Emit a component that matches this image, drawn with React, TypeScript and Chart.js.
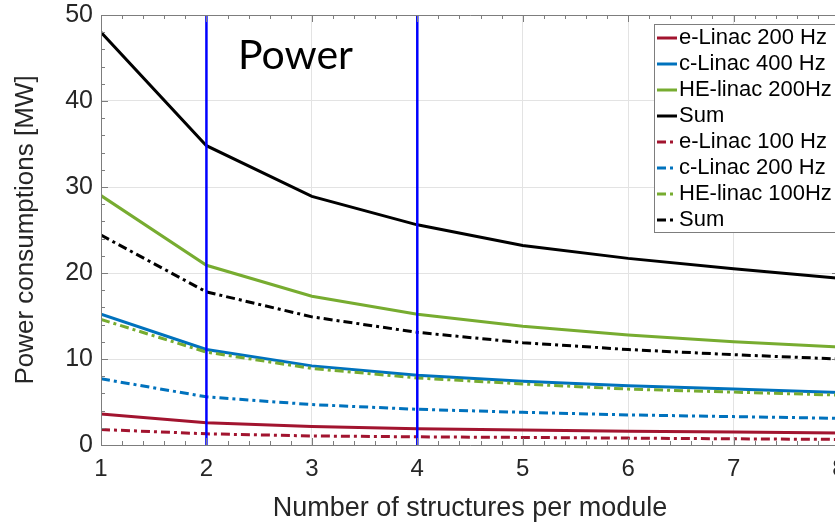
import React, { useEffect, useRef } from 'react';
import { Chart, registerables } from 'chart.js';

Chart.register(...registerables);

// ---- data ----
const structures = [1, 2, 3, 4, 5, 6, 7, 8];
const eLinac200 = [3.6, 2.6, 2.15, 1.9, 1.75, 1.6, 1.5, 1.4];
const cLinac400 = [15.2, 11.1, 9.2, 8.1, 7.4, 6.9, 6.5, 6.1];
const heLinac200 = [29.0, 20.9, 17.3, 15.2, 13.8, 12.8, 12.0, 11.4];
const sum1 = [48.0, 34.8, 28.9, 25.6, 23.2, 21.7, 20.5, 19.4];
const eLinac100 = [1.8, 1.3, 1.05, 0.95, 0.88, 0.8, 0.72, 0.65];
const cLinac200 = [7.7, 5.6, 4.7, 4.15, 3.8, 3.5, 3.3, 3.1];
const heLinac100 = [14.6, 10.8, 8.9, 7.8, 7.1, 6.5, 6.15, 5.8];
const sum2 = [24.4, 17.8, 14.9, 13.1, 11.9, 11.1, 10.5, 10.0];
const markerLines = [2, 4];
const yRange = [0, 50];
const xRange = [1, 8];
const seriesLabels = [
  'e-Linac 200 Hz',
  'c-Linac 400 Hz',
  'HE-linac 200Hz',
  'Sum',
  'e-Linac 100 Hz',
  'c-Linac 200 Hz',
  'HE-linac 100Hz',
  'Sum',
];
const xTitle = 'Number of structures per module';
const yTitle = 'Power consumptions [MW]';
const annotationText = 'Power';

const RED = '#A2142F';
const BLUE = '#0072BD';
const GREEN = '#77AC30';
const BLACK = '#000000';
const DASHDOT = [9, 4, 3, 4];
const FONT = "'Liberation Sans', Arial, Helvetica, sans-serif";

const seriesValues = [eLinac200, cLinac400, heLinac200, sum1, eLinac100, cLinac200, heLinac100, sum2];
const seriesColors = [RED, BLUE, GREEN, BLACK, RED, BLUE, GREEN, BLACK];

const axesBoxPlugin = {
  id: 'axesBox',
  afterDatasetsDraw(chart: any) {
    const { ctx, chartArea, scales } = chart;
    const { left, right, top, bottom } = chartArea;
    const x = scales.x;
    const y = scales.y;
    ctx.save();
    ctx.strokeStyle = '#7d7d7d';
    ctx.lineWidth = 1;
    ctx.beginPath();
    ctx.rect(Math.round(left) + 0.5, Math.round(top) + 0.5, Math.round(right - left), Math.round(bottom - top));
    ctx.stroke();
    ctx.beginPath();
    for (let k = 0; k <= (xRange[1] - xRange[0]) * 5; k++) {
      const v = xRange[0] + k * 0.2;
      const px = Math.round(x.getPixelForValue(v)) + 0.5;
      const len = k % 5 === 0 ? 7 : 4;
      ctx.moveTo(px, bottom);
      ctx.lineTo(px, bottom - len);
      ctx.moveTo(px, top);
      ctx.lineTo(px, top + len);
    }
    for (let k = 0; k <= (yRange[1] - yRange[0]) / 2; k++) {
      const v = yRange[0] + k * 2;
      const py = Math.round(y.getPixelForValue(v)) + 0.5;
      const len = k % 5 === 0 ? 7 : 4;
      ctx.moveTo(left, py);
      ctx.lineTo(left + len, py);
      ctx.moveTo(right, py);
      ctx.lineTo(right - len, py);
    }
    ctx.stroke();
    ctx.restore();
  },
};

const overlayPlugin = {
  id: 'overlay',
  afterDraw(chart: any) {
    const { ctx, chartArea, scales } = chart;
    ctx.save();
    ctx.fillStyle = '#000';
    ctx.font = "41px Lato, 'Open Sans', sans-serif";
    ctx.textAlign = 'left';
    ctx.textBaseline = 'alphabetic';
    ctx.fillText(annotationText, scales.x.getPixelForValue(2.3), scales.y.getPixelForValue(43.7));
    ctx.restore();

    const boxLeft = chartArea.right - 185;
    const boxTop = chartArea.top + 9;
    const rowH = 26;
    const items = chart.data.datasets.filter((d: any) => d.inLegend);
    const boxH = items.length * rowH;
    ctx.save();
    ctx.fillStyle = '#ffffff';
    ctx.fillRect(boxLeft, boxTop, 230, boxH);
    ctx.strokeStyle = '#7d7d7d';
    ctx.lineWidth = 1;
    ctx.strokeRect(Math.round(boxLeft) + 0.5, Math.round(boxTop) + 0.5, 230, boxH);
    items.forEach((d: any, i: number) => {
      const cy = boxTop + rowH / 2 + i * rowH + 1;
      ctx.beginPath();
      ctx.strokeStyle = d.borderColor;
      ctx.lineWidth = 3;
      ctx.setLineDash(d.borderDash || []);
      ctx.moveTo(boxLeft + 3, cy);
      ctx.lineTo(boxLeft + 23, cy);
      ctx.stroke();
      ctx.setLineDash([]);
      ctx.fillStyle = '#000';
      ctx.font = `22px ${FONT}`;
      ctx.textAlign = 'left';
      ctx.textBaseline = 'middle';
      ctx.fillText(d.label, boxLeft + 25, cy);
    });
    ctx.restore();
  },
};

export default function App() {
  const ref = useRef<HTMLCanvasElement | null>(null);

  useEffect(() => {
    if (!ref.current) return;
    const datasets: any[] = seriesValues.map((vals, i) => ({
      label: seriesLabels[i],
      data: structures.map((s, j) => ({ x: s, y: vals[j] })),
      borderColor: seriesColors[i],
      backgroundColor: seriesColors[i],
      borderWidth: 3,
      borderDash: i >= 4 ? DASHDOT : [],
      pointRadius: 0,
      tension: 0,
      fill: false,
      inLegend: true,
      order: 20 - i,
    }));
    markerLines.forEach((m) => {
      datasets.push({
        label: `x=${m}`,
        data: [
          { x: m, y: yRange[0] },
          { x: m, y: yRange[1] },
        ],
        borderColor: '#0000FF',
        backgroundColor: '#0000FF',
        borderWidth: 2.5,
        pointRadius: 0,
        fill: false,
        inLegend: false,
        order: 0,
      });
    });

    const chart = new Chart(ref.current, {
      type: 'line',
      data: { datasets },
      plugins: [axesBoxPlugin, overlayPlugin],
      options: {
        animation: false,
        responsive: false,
        devicePixelRatio: 1,
        layout: { padding: { left: 0, top: 15, right: 16, bottom: 0 } },
        plugins: {
          legend: { display: false },
          tooltip: { enabled: false },
        },
        scales: {
          x: {
            type: 'linear',
            min: xRange[0],
            max: xRange[1],
            afterFit: (s: any) => {
              s.height = 80;
              s.paddingLeft = 0;
              s.paddingRight = 0;
            },
            ticks: {
              stepSize: 1,
              color: '#262626',
              font: { family: FONT, size: 24 },
              padding: 10,
              maxRotation: 0,
            },
            grid: { color: '#e3e3e3', lineWidth: 1, drawTicks: false },
            border: { display: false },
            title: {
              display: true,
              text: xTitle,
              color: '#262626',
              font: { family: FONT, size: 27 },
              padding: { top: 0, bottom: 0 },
            },
          },
          y: {
            type: 'linear',
            min: yRange[0],
            max: yRange[1],
            afterFit: (s: any) => {
              s.width = 101;
              s.paddingTop = 0;
              s.paddingBottom = 0;
            },
            ticks: {
              stepSize: 10,
              color: '#262626',
              font: { family: FONT, size: 25 },
              padding: 8,
            },
            grid: { color: '#e3e3e3', lineWidth: 1, drawTicks: false },
            border: { display: false },
            title: {
              display: true,
              text: yTitle,
              color: '#262626',
              font: { family: FONT, size: 26 },
              padding: { top: 10, bottom: 0 },
            },
          },
        },
      } as any,
    });
    return () => chart.destroy();
  }, []);

  return (
    <div
      style={{
        position: 'fixed',
        left: 0,
        top: 0,
        width: 835,
        height: 525,
        overflow: 'hidden',
        background: '#ffffff',
      }}
    >
      <canvas ref={ref} width={855} height={525} style={{ display: 'block', width: 855, height: 525 }} />
    </div>
  );
}
